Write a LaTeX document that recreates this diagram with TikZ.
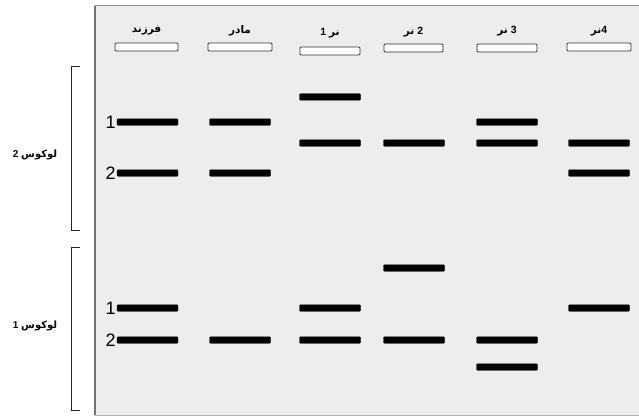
\documentclass[tikz,border=0pt]{standalone}
\usepackage{fontspec}
\setmainfont{Liberation Sans}
\newfontfamily\arabicfont[Script=Arabic]{DejaVu Sans}
\TeXXeTstate=1
\newcommand{\ar}[1]{{\arabicfont\beginR #1\endR}}
\begin{document}
\begin{tikzpicture}[x=1pt,y=-1pt,
  band/.style={fill=black,draw=black,rounded corners=1pt,minimum width=61pt,minimum height=6.5pt,inner sep=0pt},
  well/.style={fill=white,draw=black!80,line width=0.8pt,rounded corners=1pt,minimum width=61pt,minimum height=8pt,inner sep=0pt},
  head/.style={font=\fontsize{10.5}{10.5}\selectfont\bfseries,inner sep=0pt},
  num/.style={font=\fontsize{18}{18}\selectfont,inner sep=0pt},
  loc/.style={font=\fontsize{10}{10}\selectfont\bfseries,inner sep=0pt},
  brk/.style={draw=black!85,line width=1pt}]
\useasboundingbox (0,0) rectangle (639,417);
\fill[white] (0,0) rectangle (639,417);
\fill[black!7] (95,6) rectangle (639,415);
\draw[black!55,line width=2.5pt] (95,415) -- (95,6);
\draw[black!45,line width=1pt] (95,6) -- (639,6);
\draw[black!30,line width=1pt] (95,415) -- (639,415);
% wells
\node[well,minimum width=63pt] (w1) at (146.5,47) {};
\node[well,minimum width=64pt] (w2) at (240,47) {};
\node[well,minimum width=60pt] (w3) at (330,51) {};
\node[well,minimum width=59pt] (w4) at (413.5,48) {};
\node[well,minimum width=60pt] (w5) at (507,48) {};
\node[well,minimum width=64pt] (w6) at (599,47) {};
% headers
\node[head] (h1) at (146.5,30) {\ar{فرزند}};
\node[head] (h2) at (240,31) {\ar{مادر}};
\node[head] (h3) at (330,33) {1\ \ar{نر}};
\node[head] (h4) at (413.5,32) {\ar{نر} 2};
\node[head] (h5) at (507,31) {\ar{نر} 3};
\node[head] (h6) at (599,31) {\ar{نر}4};
% locus 2 bands
\node[band] (a1) at (147.5,122) {};
\node[band] (a2) at (240,122) {};
\node[band] (a3) at (330,97) {};
\node[band] (a5) at (507,122) {};
\node[band] (b3) at (330,143) {};
\node[band] (b4) at (414,143) {};
\node[band] (b5) at (507,143) {};
\node[band] (b6) at (599,143) {};
\node[band] (c1) at (147.5,173) {};
\node[band] (c2) at (240,173) {};
\node[band] (c6) at (599,173) {};
% locus 1 bands
\node[band] (d4) at (414,268) {};
\node[band] (e1) at (147.5,308) {};
\node[band] (e3) at (330,308) {};
\node[band] (e6) at (599,308) {};
\node[band] (f1) at (147.5,340) {};
\node[band] (f2) at (240,340) {};
\node[band] (f3) at (330,340) {};
\node[band] (f4) at (414,340) {};
\node[band] (f5) at (507,340) {};
\node[band] (g5) at (507,367) {};
% allele numbers
\node[num,anchor=east] (n1) at ([xshift=-1pt]a1.west) {1};
\node[num,anchor=east] (n2) at ([xshift=-1pt]c1.west) {2};
\node[num,anchor=east] (n3) at ([xshift=-1pt]e1.west) {1};
\node[num,anchor=east] (n4) at ([xshift=-1pt]f1.west) {2};
% brackets
\draw[brk] (80,67) -- (71,67) -- (71,230) -- (80,230);
\draw[brk] (80,247) -- (71,247) -- (71,410) -- (80,410);
\node[loc] (l2) at (35,155) {2\ \ar{لوکوس}};
\node[loc] (l1) at (35,326) {1\ \ar{لوکوس}};
\end{tikzpicture}
\end{document}
